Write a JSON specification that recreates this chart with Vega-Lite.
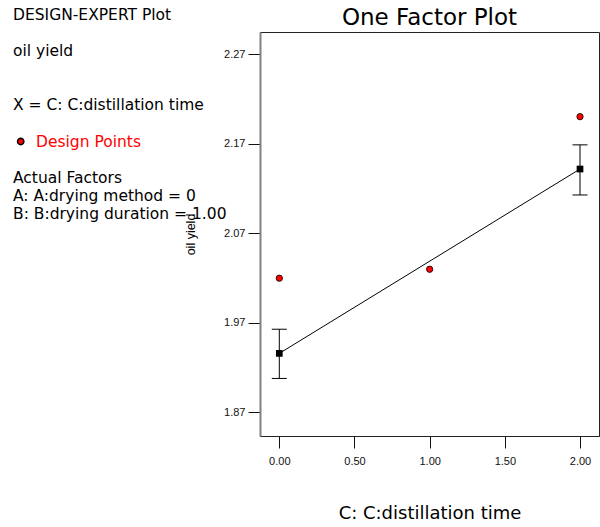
{
  "$schema": "https://vega.github.io/schema/vega-lite/v6.json",
  "width": 339,
  "height": 404,
  "autosize": {"type": "none"},
  "padding": {"left": 260, "top": 32, "right": 1, "bottom": 91},
  "background": "white",
  "title": {"text": "One Factor Plot", "font": "DejaVu Sans", "fontSize": 23, "fontWeight": "normal", "color": "#000", "anchor": "middle", "baseline": "alphabetic", "offset": -40},
  "config": {
    "view": {"stroke": "#222", "strokeWidth": 1},
    "axis": {"labelFont": "Liberation Sans", "labelFontSize": 11, "labelColor": "#111", "tickColor": "#111", "tickSize": 12, "grid": false, "titleFontWeight": "normal", "titleColor": "#000"}
  },
  "datasets": {
    "design": [
      {"C": 0, "yield": 2.020},
      {"C": 1, "yield": 2.030},
      {"C": 2, "yield": 2.2005}
    ],
    "means": [
      {"C": 0, "mean": 1.936, "lo": 1.908, "hi": 1.963},
      {"C": 2, "mean": 2.142, "lo": 2.113, "hi": 2.169}
    ],
    "notes": [
      {"line": 0, "text": "DESIGN-EXPERT Plot"},
      {"line": 2, "text": "oil yield"},
      {"line": 5, "text": "X = C: C:distillation time"},
      {"line": 9, "text": "Actual Factors"},
      {"line": 10, "text": "A: A:drying method = 0"},
      {"line": 11, "text": "B: B:drying duration = 1.00"}
    ],
    "legend": [
      {"line": 7, "text": "Design Points"}
    ]
  },
  "layer": [
    {
      "encoding": {
        "x": {"field": "C", "type": "quantitative", "scale": {"domain": [-0.1284, 2.1263], "nice": false, "zero": false},
          "axis": {"values": [0, 0.5, 1, 1.5, 2], "format": ".2f", "title": "C: C:distillation time", "titleFont": "DejaVu Sans", "titleFontSize": 18, "titlePadding": 38, "labelPadding": 7, "domainColor": "#222"}}
      },
      "layer": [
        {
          "data": {"name": "means"},
          "mark": {"type": "rule", "color": "#000", "strokeWidth": 1},
          "encoding": {
            "y": {"field": "lo", "type": "quantitative", "title": "oil yield", "scale": {"domain": [1.8437, 2.2951], "nice": false, "zero": false},
              "axis": {"values": [1.87, 1.97, 2.07, 2.17, 2.27], "format": ".2f", "labelPadding": 3, "titlePadding": 26, "titleFont": "Liberation Sans", "titleFontSize": 12.5, "domainColor": "#808080", "domainWidth": 2}},
            "y2": {"field": "hi"}
          }
        },
        {
          "data": {"name": "means"},
          "mark": {"type": "tick", "orient": "horizontal", "size": 15, "thickness": 1, "color": "#000", "opacity": 1},
          "encoding": {"y": {"field": "lo", "type": "quantitative", "title": "oil yield"}}
        },
        {
          "data": {"name": "means"},
          "mark": {"type": "tick", "orient": "horizontal", "size": 15, "thickness": 1, "color": "#000", "opacity": 1},
          "encoding": {"y": {"field": "hi", "type": "quantitative", "title": "oil yield"}}
        },
        {
          "data": {"name": "means"},
          "mark": {"type": "line", "color": "#000", "strokeWidth": 1},
          "encoding": {"y": {"field": "mean", "type": "quantitative", "title": "oil yield"}}
        },
        {
          "data": {"name": "means"},
          "mark": {"type": "square", "color": "#000", "size": 45, "opacity": 1},
          "encoding": {"y": {"field": "mean", "type": "quantitative", "title": "oil yield"}}
        },
        {
          "data": {"name": "design"},
          "mark": {"type": "point", "shape": "circle", "filled": true, "fill": "#ff0000", "stroke": "#000", "strokeWidth": 0.8, "size": 40, "opacity": 1},
          "encoding": {"y": {"field": "yield", "type": "quantitative", "title": "oil yield"}}
        }
      ]
    },
    {
      "encoding": {
        "y": {"field": "line", "type": "quantitative", "scale": {"domain": [0.9167, 23.361], "reverse": true, "nice": false, "zero": false}, "axis": null}
      },
      "layer": [
        {
          "data": {"name": "notes"},
          "mark": {"type": "text", "align": "left", "baseline": "middle", "font": "DejaVu Sans", "fontSize": 15.5, "color": "#000"},
          "encoding": {"x": {"datum": -1.7712, "type": "quantitative"}, "text": {"field": "text"}}
        },
        {
          "data": {"name": "legend"},
          "mark": {"type": "text", "align": "left", "baseline": "middle", "font": "DejaVu Sans", "fontSize": 15.5, "color": "#ff0000"},
          "encoding": {"x": {"datum": -1.6183, "type": "quantitative"}, "text": {"field": "text"}}
        },
        {
          "data": {"name": "legend"},
          "mark": {"type": "point", "shape": "circle", "filled": true, "fill": "#ff0000", "stroke": "#000", "strokeWidth": 1.5, "size": 40, "opacity": 1},
          "encoding": {"x": {"datum": -1.72, "type": "quantitative"}}
        }
      ]
    }
  ],
  "resolve": {"scale": {"y": "independent"}}
}
